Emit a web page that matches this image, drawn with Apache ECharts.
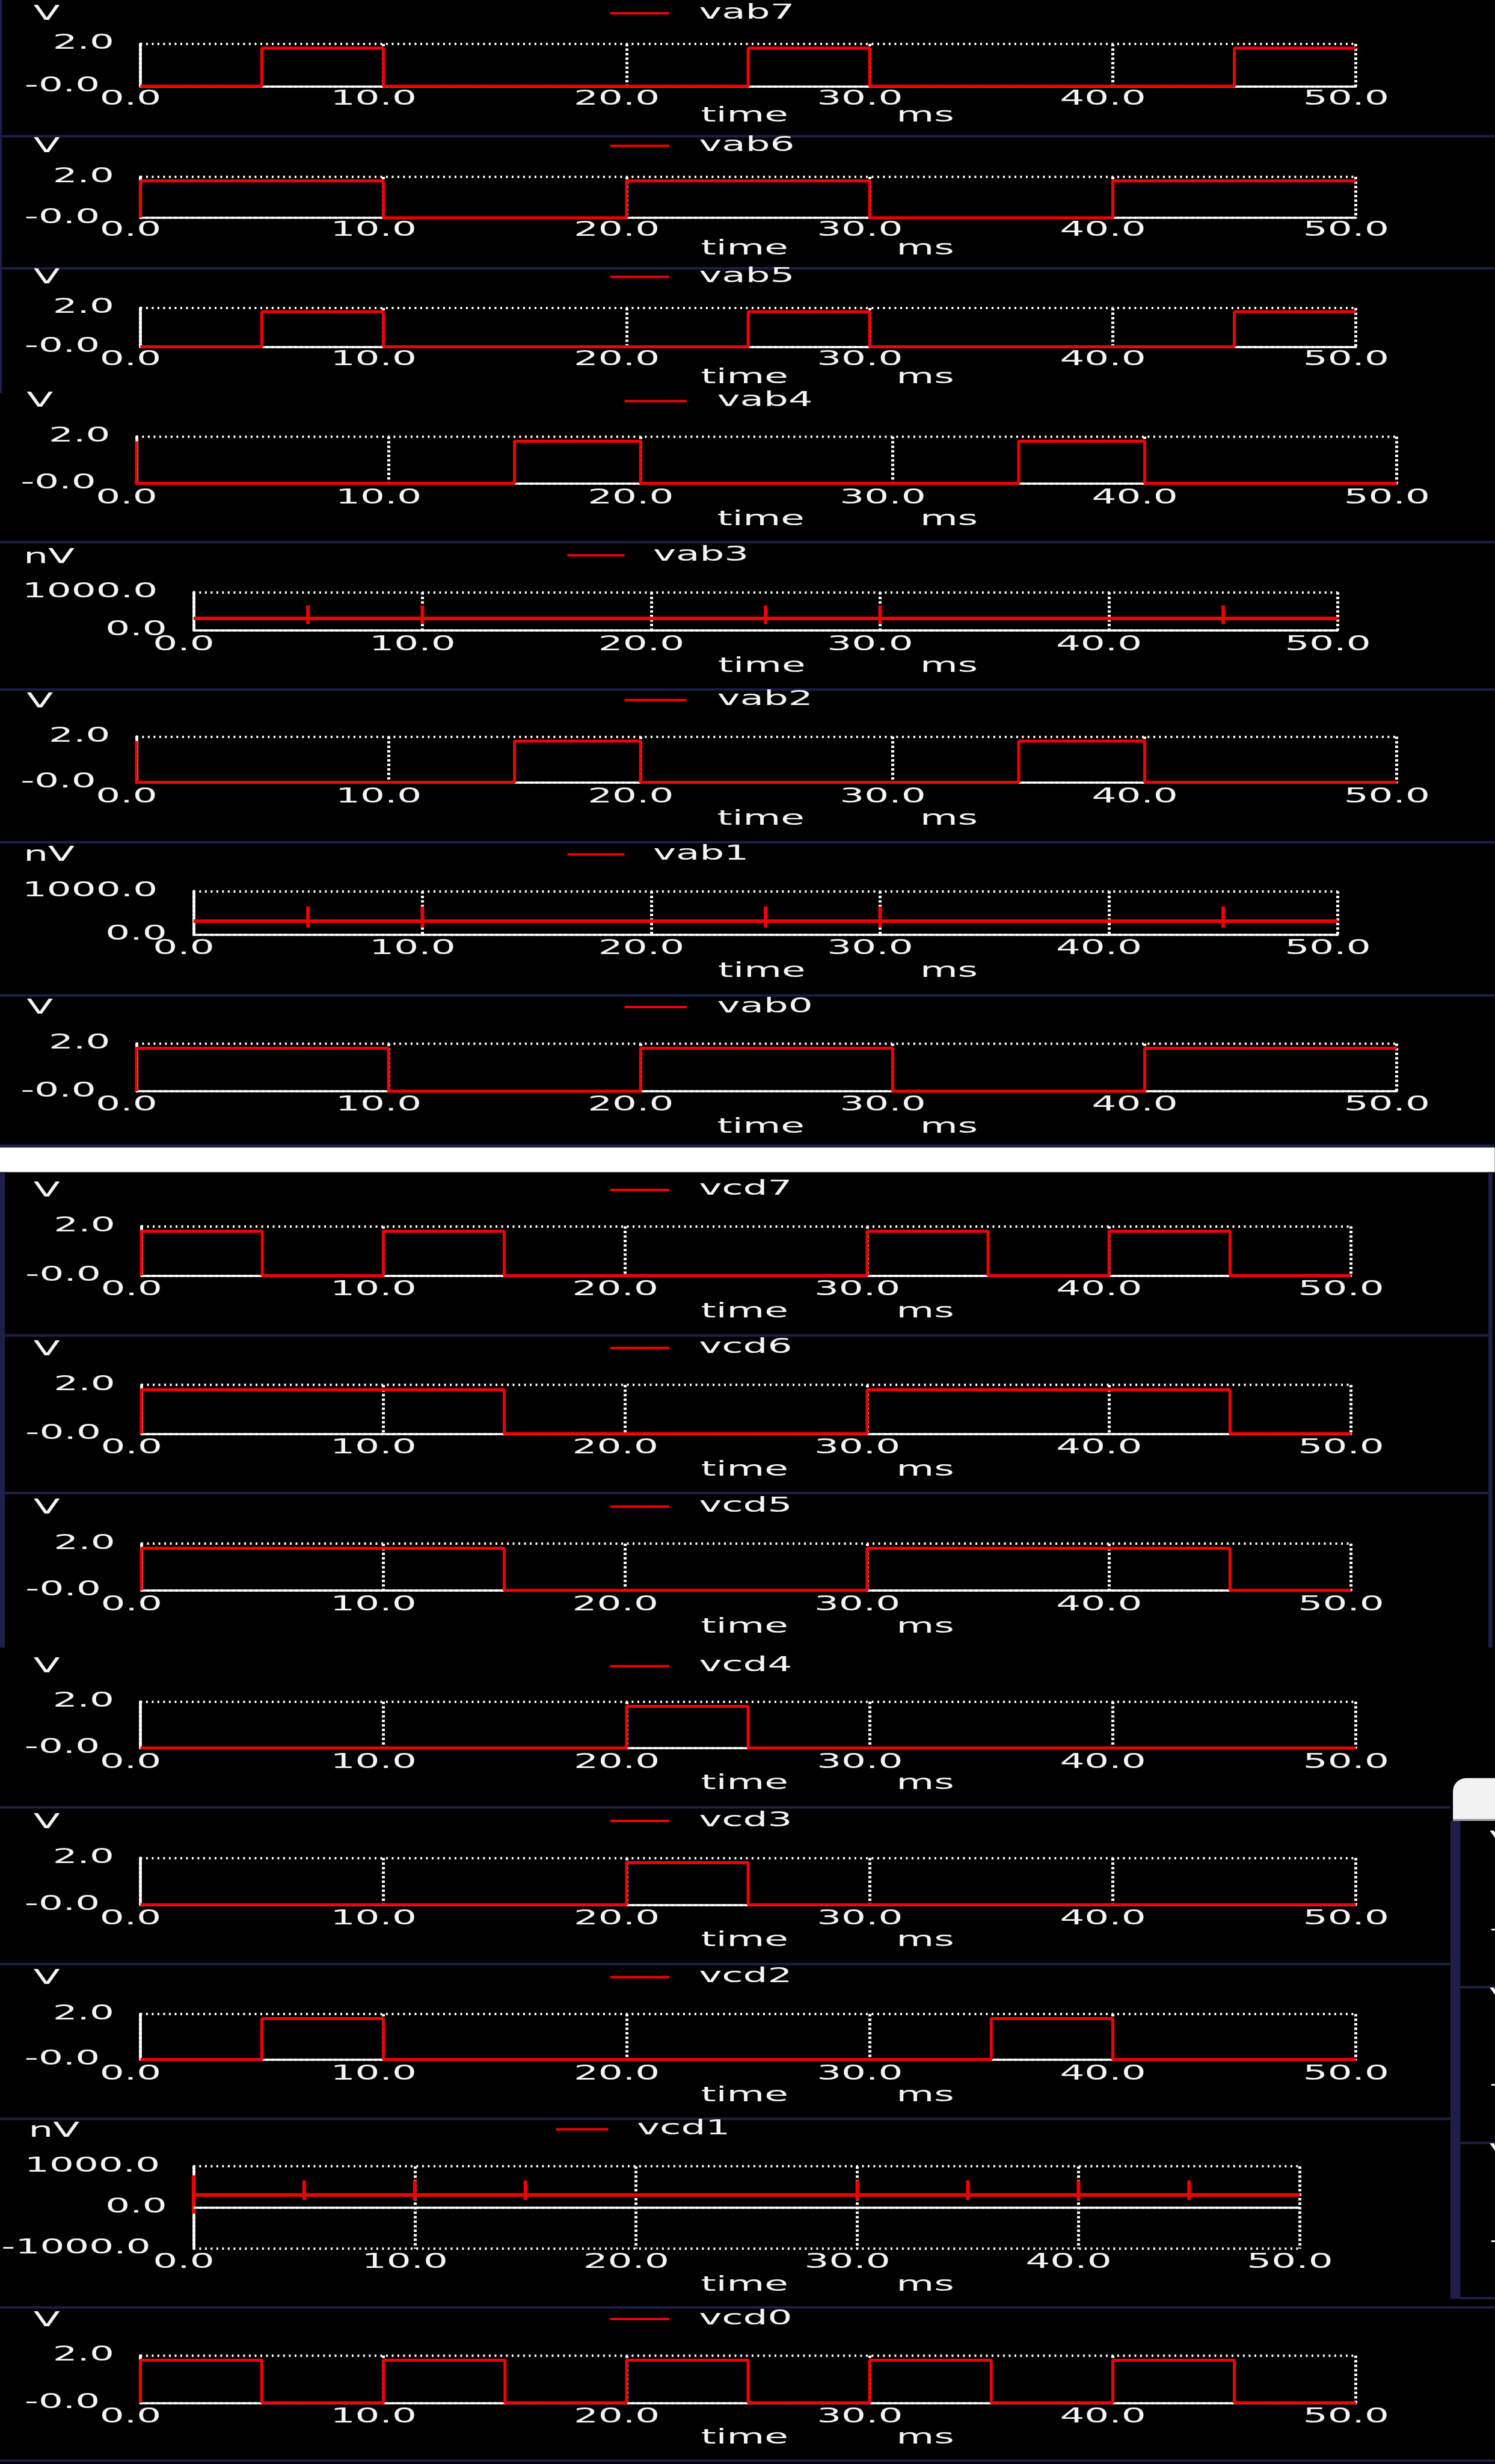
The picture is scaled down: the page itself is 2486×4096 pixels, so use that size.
<!DOCTYPE html>
<html>
<head>
<meta charset="utf-8">
<script src="https://cdn.jsdelivr.net/npm/echarts@6/dist/echarts.min.js"></script>
<style>
html,body{margin:0;padding:0;background:#000;}
#c{width:2486px;height:4096px;}
</style>
</head>
<body>
<div id="c"></div>
<script>
// ---------- data ----------
const xTickLabels = ['0.0', '10.0', '20.0', '30.0', '40.0', '50.0'];
const vTickLabels = ['-0.0', '2.0'];
const nvTickLabels = ['0.0', '1000.0'];
const nv2TickLabels = ['-1000.0', '0.0', '1000.0'];
const seriesNames = ['vab7','vab6','vab5','vab4','vab3','vab2','vab1','vab0',
                     'vcd7','vcd6','vcd5','vcd4','vcd3','vcd2','vcd1','vcd0'];
// [time ms, value]  (V panels in V, nV panels in nV); drawn as steps
const vab7 = [[0,0],[5,1.8],[10,0],[25,1.8],[30,0],[45,1.8],[50,1.8]];
const vab6 = [[0,0],[0,1.8],[10,0],[20,1.8],[30,0],[40,1.8],[50,1.8]];
const vab5 = [[0,0],[5,1.8],[10,0],[25,1.8],[30,0],[45,1.8],[50,1.8]];
const vab4 = [[0,1.8],[0,0],[15,1.8],[20,0],[35,1.8],[40,0],[50,0]];
const vab3 = [[0,310],[5,650],[5,160],[5,310],[10,650],[10,160],[10,310],[25,650],[25,160],[25,310],
              [30,650],[30,160],[30,310],[45,650],[45,160],[45,310],[50,310]];
const vab2 = [[0,1.8],[0,0],[15,1.8],[20,0],[35,1.8],[40,0],[50,0]];
const vab1 = [[0,310],[5,650],[5,160],[5,310],[10,650],[10,160],[10,310],[25,650],[25,160],[25,310],
              [30,650],[30,160],[30,310],[45,650],[45,160],[45,310],[50,310]];
const vab0 = [[0,0],[0,1.8],[10,0],[20,1.8],[30,0],[40,1.8],[50,1.8]];
const vcd7 = [[0,0],[0,1.8],[5,0],[10,1.8],[15,0],[30,1.8],[35,0],[40,1.8],[45,0],[50,0]];
const vcd6 = [[0,0],[0,1.8],[15,0],[30,1.8],[45,0],[50,0]];
const vcd5 = [[0,0],[0,1.8],[15,0],[30,1.8],[45,0],[50,0]];
const vcd4 = [[0,0],[20,1.8],[25,0],[50,0]];
const vcd3 = [[0,0],[20,1.8],[25,0],[50,0]];
const vcd2 = [[0,0],[5,1.8],[10,0],[35,1.8],[40,0],[50,0]];
const vcd1 = [[0,780],[0,-150],[0,305],[5,660],[5,180],[5,305],[10,660],[10,180],[10,305],
              [15,660],[15,180],[15,305],[30,660],[30,180],[30,305],[35,660],[35,180],[35,305],
              [40,660],[40,180],[40,305],[45,660],[45,180],[45,305],[50,305]];
const vcd0 = [[0,0],[0,1.8],[5,0],[10,1.8],[15,0],[20,1.8],[25,0],[30,1.8],[35,0],[40,1.8],[45,0],[50,0]];
const seriesData = [vab7,vab6,vab5,vab4,vab3,vab2,vab1,vab0,vcd7,vcd6,vcd5,vcd4,vcd3,vcd2,vcd1,vcd0];

// ---------- layout / style (reference px, scaled by S) ----------
const S = 0.819, SX = 1.95, FS = 33, FW = 'normal', FONT = 'DejaVu Sans';
const TEXT = '#f4f4f4', RED = '#f00000', NAVY = '#1e1e48', WHITE = '#ffffff';

const KINDS = {
  V:   {min: 0, max: 2, interval: 2, ticks: vTickLabels, gaps: [82, 53], unit: 'V', lw: 5},
  NV:  {min: 0, max: 1000, interval: 1000, ticks: nvTickLabels, gaps: [54, 73], unit: 'nV', lw: 6},
  NV2: {min: -1000, max: 1000, interval: 1000, ticks: nv2TickLabels, gaps: [87, 54, 68], unit: 'nV', lw: 6}
};
const GEOM = {
  std:  {L: 285, R: 2753, lx0: 1239, lx1: 1359, tx: 1419, timeX: 1423, msX: 1820, ux: 68},
  std2: {L: 287, R: 2743, lx0: 1239, lx1: 1359, tx: 1419, timeX: 1423, msX: 1820, ux: 68},
  wide: {L: 277, R: 2836, lx0: 1268, lx1: 1394, tx: 1456, timeX: 1456, msX: 1868, ux: 54},
  nv:   {L: 393, R: 2716, lx0: 1152, lx1: 1268, tx: 1326, timeX: 1458, msX: 1868, ux: 48},
  nv2:  {L: 393, R: 2639, lx0: 1129, lx1: 1235, tx: 1293, timeX: 1423, msX: 1820, ux: 58}
};
// kind, geom, plotTop, plotBottom, unitY, legendY, xLabelY, timeY
const PANELS = [
  ['V','std', 89,175, 30, 27, 202, 236],
  ['V','std', 359,442, 299,296,468,506],
  ['V','std', 625,704, 565,562,731,767],
  ['V','wide',886,981, 815,814,1012,1055],
  ['NV','nv',1202,1279,1132,1127,1309,1353],
  ['V','wide',1495,1588,1425,1421,1618,1663],
  ['NV','nv',1809,1897,1737,1734,1926,1972],
  ['V','wide',2118,2215,2047,2044,2244,2289],
  ['V','std2',2489,2589,2418,2415,2618,2663],
  ['V','std2',2811,2910,2740,2736,2940,2985],
  ['V','std2',3133,3228,3061,3058,3258,3303],
  ['V','std',3454,3548,3384,3382,3578,3621],
  ['V','std',3771,3866,3700,3696,3896,3940],
  ['V','std',4088,4180,4016,4013,4210,4254],
  ['NV2','nv2',4397,4564,4326,4322,4593,4639],
  ['V','std',4781,4877,4711,4707,4907,4949]
];

// ---------- background graphics ----------
const graphics = [];
function rect(x, y, w, h, fill, z, r) {
  graphics.push({type: 'rect', silent: true, z: z === undefined ? -10 : z,
    shape: {x: x * S, y: y * S, width: w * S, height: h * S, r: r || 0}, style: {fill: fill}});
}
function label(str, x, y) {
  graphics.push({type: 'text', silent: true, z: 10, x: x * S, y: y * S, scaleX: SX,
    style: {text: str, fill: TEXT, fontSize: FS, fontWeight: FW, fontFamily: FONT, align: 'left', verticalAlign: 'middle'}});
}
// white gap between the two captures
rect(0, 2329, 3035, 50, WHITE);
// separators
[276, 544, 1100, 1399, 1709, 2020, 2325].forEach(y => rect(0, y - 2, 3035, 5, NAVY));
[[2710, 3026], [3030, 3026], [3668, 2945], [3986, 2945], [4300, 2945], [4683, 3035], [4994, 3035]]
  .forEach(s => rect(0, s[0] - 2, s[1], 5, NAVY));
// borders
rect(0, 0, 4, 798, NAVY);
rect(0, 2379, 10, 965, NAVY);
rect(3022, 2379, 8, 965, NAVY);
// overlapping window at right edge
rect(2950, 3609, 100, 87, '#f2f2f2', -9, [22, 0, 0, 0]);
rect(2950, 3692, 100, 4, '#9a9a9a', -9);
rect(2945, 3696, 20, 970, NAVY, -9);
[4031, 4347, 4662].forEach(y => rect(2965, y, 70, 5, NAVY, -9));
[[3736, 'V'], [4054, 'V'], [4371, 'V'], [3917, '-'], [4233, '-'], [4550, '-']]
  .forEach(t => label(t[1], 3024, t[0]));

// ---------- chart components ----------
const grids = [], xAxes = [], yAxes = [], series = [], legends = [];
const XPAD = 2 * 20 * S / SX;
PANELS.forEach((p, i) => {
  const k = KINDS[p[0]], g = GEOM[p[1]];
  const T = p[2], B = p[3];
  grids.push({left: g.L * S, top: T * S, width: (g.R - g.L) * S, height: (B - T) * S,
    containLabel: false, outerBoundsMode: 'none', show: false});
  xAxes.push({
    gridIndex: i, type: 'value', min: 0, max: 50, interval: 10,
    axisLine: {show: p[0] !== 'NV2', onZero: false, lineStyle: {color: WHITE, width: 3.5}},
    axisTick: {show: false},
    splitLine: {show: true, lineStyle: {color: WHITE, width: 5, type: [4, 3.5]}},
    axisLabel: {show: true, color: TEXT, fontSize: FS, fontWeight: FW, fontFamily: FONT, margin: (p[6] - B) * S,
      verticalAlign: 'middle', align: 'center', padding: [0, XPAD, 0, 0],
      formatter: v => xTickLabels[Math.round(v / 10)]}
  });
  const minGap = Math.min.apply(null, k.gaps);
  const rich = {};
  k.gaps.forEach((gp, j) => {
    rich['t' + j] = {color: TEXT, fontSize: FS, fontWeight: FW, fontFamily: FONT, padding: [0, (gp - minGap) * S / SX, 0, 0]};
  });
  yAxes.push({
    gridIndex: i, type: 'value', min: k.min, max: k.max, interval: k.interval,
    axisLine: {show: true, onZero: false, lineStyle: {color: WHITE, width: 4.5}},
    axisTick: {show: false},
    splitLine: {show: true, lineStyle: {color: WHITE, width: 4, type: [3, 6.5]}},
    axisLabel: {show: true, color: TEXT, fontSize: FS, fontWeight: FW, fontFamily: FONT, margin: minGap * S, align: 'right',
      verticalAlign: 'middle', rich: rich,
      formatter: v => { const j = Math.round((v - k.min) / k.interval); return '{t' + j + '|' + k.ticks[j] + '}'; }}
  });
  const s = {
    type: 'line', name: seriesNames[i], xAxisIndex: i, yAxisIndex: i, data: seriesData[i],
    step: 'end', symbol: 'none', showSymbol: false, clip: false, silent: true, z: 3,
    color: RED, itemStyle: {color: RED}, lineStyle: {color: RED, width: k.lw}
  };
  if (p[0] === 'NV2') {
    s.markLine = {silent: true, symbol: 'none', label: {show: false}, animation: false,
      lineStyle: {color: WHITE, width: 3.5, type: 'solid'}, data: [{yAxis: 0}]};
  }
  series.push(s);
  legends.push({
    show: true, data: [seriesNames[i]], left: g.lx0 * S, top: p[5] * S - FS / 2, orient: 'horizontal',
    icon: 'rect', itemWidth: (g.lx1 - g.lx0) * S, itemHeight: 4, padding: 0, selectedMode: false,
    textStyle: {color: TEXT, fontSize: FS, fontWeight: FW, fontFamily: FONT,
      padding: [0, 0, 0, Math.max(0, ((g.tx - g.lx1) * S - 5) / SX)]}
  });
  label(k.unit, g.ux, p[4]);
  label('time', g.timeX, p[7]);
  label('ms', g.msX, p[7]);
});

const chart = echarts.init(document.getElementById('c'), null, {renderer: 'canvas', width: 2486, height: 4096});
chart.setOption({
  animation: false,
  backgroundColor: '#000000',
  grid: grids, xAxis: xAxes, yAxis: yAxes, series: series, legend: legends,
  graphic: {elements: graphics}
});

// the source waveform viewer draws its text horizontally stretched: widen text about its anchor
function stretchTexts() {
  const zr = chart.getZr();
  const walk = el => {
    if (el.type === 'text' && el.scaleX === 1 && !el.__sx) {
      el.__sx = true;
      el.originX = (el.style && el.style.x) || 0;
      el.originY = (el.style && el.style.y) || 0;
      el.scaleX = SX;
      if (el.markRedraw) el.markRedraw();
    }
    if (el.isGroup && el.childrenRef) el.childrenRef().forEach(walk);
  };
  zr.storage.getRoots().forEach(walk);
  if (zr.refreshImmediately) zr.refreshImmediately(); else zr.refresh();
}
stretchTexts();
chart.on('finished', stretchTexts);
</script>
</body>
</html>
